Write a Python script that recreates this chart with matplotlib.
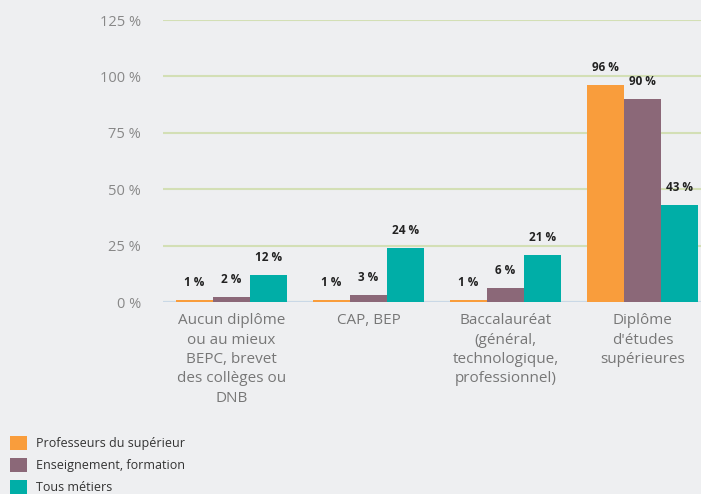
import numpy as np
import matplotlib
matplotlib.use("Agg")
import matplotlib.pyplot as plt

plt.rcParams['font.family'] = ['Open Sans', 'DejaVu Sans']

categories = [
    "Aucun diplôme\nou au mieux\nBEPC, brevet\ndes collèges ou\nDNB",
    "CAP, BEP",
    "Baccalauréat\n(général,\ntechnologique,\nprofessionnel)",
    "Diplôme\nd'études\nsupérieures",
]
series = ["Professeurs du supérieur", "Enseignement, formation", "Tous métiers"]
profs = [1, 1, 1, 96]
enseignement = [2, 3, 6, 90]
tous = [12, 24, 21, 43]
colors = ["#f99d3c", "#8b6878", "#00aea7"]
yticks = [0, 25, 50, 75, 100, 125]

bg = "#eeeff1"
fig = plt.figure(figsize=(7.01, 4.94), dpi=100, facecolor=bg)
ax = fig.add_axes([163 / 701, 192 / 494, 548 / 701, 282 / 494], facecolor=bg)

x = np.arange(len(categories))
w = 0.27
for i, (vals, c, name) in enumerate(zip([profs, enseignement, tous], colors, series)):
    pos = x + (i - 1) * w
    ax.bar(pos, vals, width=w, color=c, label=name, zorder=3)
    for xp, v in zip(pos, vals):
        ax.annotate(f"{v} %", (xp, v), xytext=(0, 8), textcoords="offset points",
                    ha="center", va="bottom", fontsize=8.5, fontweight="bold",
                    color="#222222")

ax.set_xlim(-0.5, 3.5)
ax.set_ylim(0, 125)
ax.set_yticks(yticks)
ax.set_yticklabels([f"{t} %" for t in yticks])
ax.yaxis.grid(True, color="#d3dfb5", linewidth=1.5, zorder=0)
ax.axhline(0, color="#c9d8e6", linewidth=1.5, zorder=2)
ax.set_xticks(x)
ax.set_xticklabels(categories, fontsize=11, color="#777777", linespacing=1.4,
                   va="top")
ax.tick_params(axis="y", length=0, pad=16, labelsize=10.5, labelcolor="#888888")
ax.tick_params(axis="x", length=0, pad=8)
for s in ax.spines.values():
    s.set_visible(False)

fig.legend(loc="upper left", bbox_to_anchor=(10 / 701, 1 - 436 / 494), frameon=False,
           fontsize=9, labelcolor="#333333", handlelength=1.36, handleheight=1.36,
           handletextpad=0.72, labelspacing=0.62, borderaxespad=0, borderpad=0)

fig.savefig("out.png", dpi=100, facecolor=bg)
